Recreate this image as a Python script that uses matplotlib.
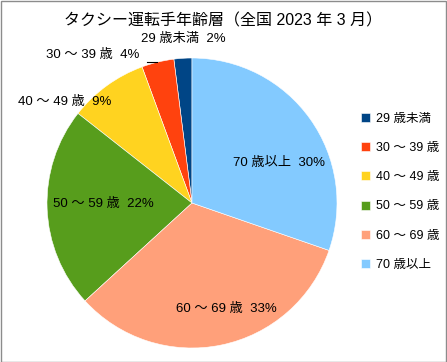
import numpy as np
import matplotlib.pyplot as plt
from matplotlib.patches import Rectangle

# ==========================================
# DATA
# ==========================================

categories = ["29 歳未満", "30 ～ 39 歳", "40 ～ 49 歳", "50 ～ 59 歳", "60 ～ 69 歳", "70 歳以上"]

shares = [2.0, 3.6, 8.8, 22.4, 32.9, 30.3]

colors = ["#004586", "#ff420e", "#ffd320", "#579d1c", "#ffa07a", "#83caff"]

# label placement (style): angle shift in degrees, radius factor
label_shift = [-0.4, 20.3, 15.6, -1.4, 6.4, -11.0]
label_radius = [1.13, 1.23, 1.12, 0.61, 0.77, 0.66]

plt.rcParams["font.family"] = ["Liberation Sans", "Noto Sans CJK JP", "DejaVu Sans"]

# ==========================================
# FIGURE
# ==========================================

W, H = 447, 362
fig = plt.figure(figsize=(W / 100, H / 100), dpi=100)
ax = fig.add_axes([0, 0, 1, 1])

fig.patches.append(Rectangle((0.5, 0.5), W - 1.5, H - 1.5, transform=None,
                             fill=False, edgecolor="#8c8c8c", linewidth=1))

cx, cy, r = 192, H - 203, 145

wedges, _ = ax.pie(
    shares,
    colors=colors,
    startangle=90,
    counterclock=True,
    center=(cx, cy),
    radius=r,
    frame=True,
    wedgeprops=dict(edgecolor="white", linewidth=0.4),
)
ax.set_xlim(0, W)
ax.set_ylim(0, H)
ax.axis("off")

# ==========================================
# LABELS
# ==========================================

for i, w in enumerate(wedges):
    mid = (w.theta1 + w.theta2) / 2
    th = np.radians(mid + label_shift[i])
    x = cx + label_radius[i] * r * np.cos(th)
    y = cy + label_radius[i] * r * np.sin(th)
    ax.text(x, y, f"{categories[i]}  {shares[i]:.0f}%", ha="center", va="center",
            fontsize=9.5, color="black")

# leader line for the 30-39 slice
mid = np.radians((wedges[1].theta1 + wedges[1].theta2) / 2)
ex = cx + r * np.cos(mid)
ey = cy + r * np.sin(mid)
ax.plot([ex - 11, ex - 1], [ey, ey], color="black", linewidth=0.8)

# ==========================================
# LEGEND
# ==========================================

ax.legend(
    wedges, categories,
    loc="center left",
    bbox_to_anchor=(0.782, 0.47),
    frameon=False,
    fontsize=9,
    handlelength=0.75,
    handleheight=0.75,
    handletextpad=0.45,
    labelspacing=1.38,
)

fig.text(0.5, 1 - 21 / H, "タクシー運転手年齢層（全国 2023 年 3 月）",
         ha="center", va="center", fontsize=11.5)

plt.savefig("out.png", dpi=100)
